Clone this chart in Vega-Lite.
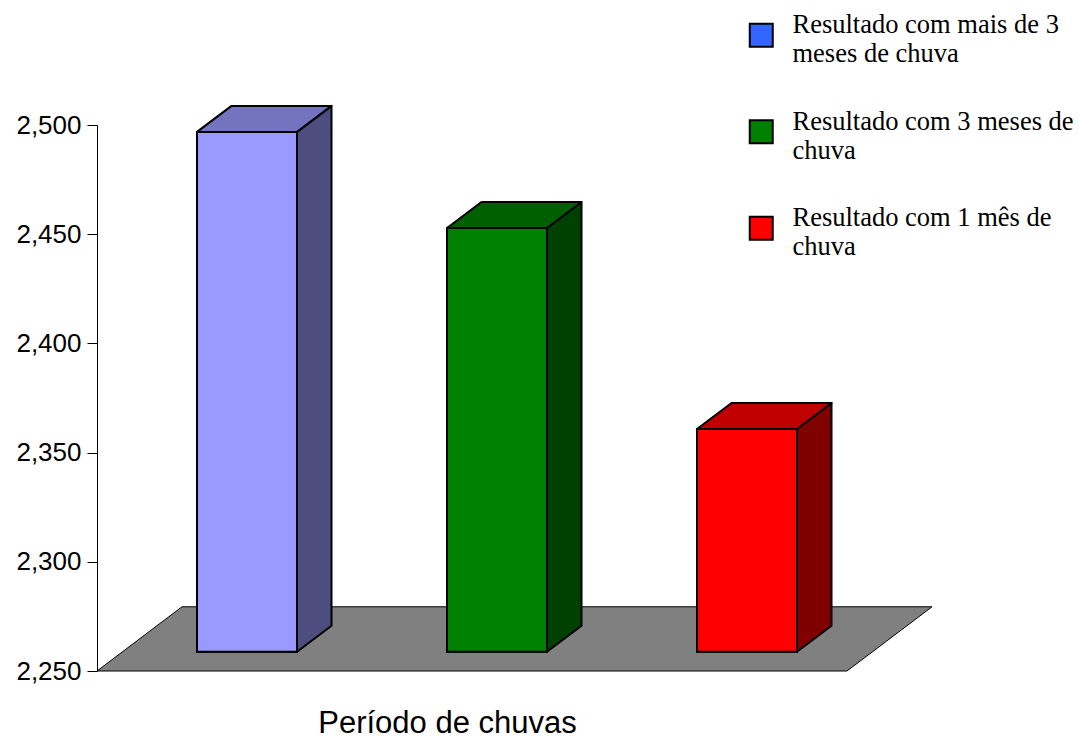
{
  "$schema": "https://vega.github.io/schema/vega-lite/v6.json",
  "width": 835,
  "height": 546,
  "autosize": "none",
  "padding": {"left": 97, "top": 125, "right": 147, "bottom": 67},
  "background": "white",
  "config": {
    "view": {"stroke": null},
    "axis": {"grid": false},
    "axisY": {
      "tickCount": 5,
      "labelFont": "Liberation Sans",
      "labelFontSize": 26,
      "labelColor": "#000",
      "labelPadding": 6,
      "tickColor": "#000",
      "tickSize": 10,
      "domainColor": "#000",
      "labelFlush": false
    },
    "axisX": {
      "labels": false,
      "ticks": false,
      "domain": false,
      "titleFont": "Liberation Sans",
      "titleFontSize": 31,
      "titleFontWeight": "normal",
      "titleColor": "#000",
      "titlePadding": 37,
      "titleX": 350,
      "titleAlign": "center"
    }
  },
  "data": {
    "values": [
      {"resultado": "Resultado com mais de 3 meses de chuva", "valor": 2488},
      {"resultado": "Resultado com 3 meses de chuva", "valor": 2444},
      {"resultado": "Resultado com 1 mês de chuva", "valor": 2352}
    ]
  },
  "transform": [
    {"window": [{"op": "row_number", "as": "ordem"}]},
    {"calculate": "datum.ordem - 1", "as": "i"}
  ],
  "layer": [
    {
      "transform": [
        {"aggregate": [{"op": "count", "as": "n"}]},
        {"calculate": "[0, 1]", "as": "lado"},
        {"flatten": ["lado"]},
        {"calculate": "datum.lado * 0.34", "as": "xa"},
        {"calculate": "datum.n + datum.lado * 0.34", "as": "xb"},
        {"calculate": "2250 + datum.lado * 29.4", "as": "yp"}
      ],
      "mark": {"type": "area", "orient": "horizontal", "fill": "#808080", "stroke": "#000", "strokeWidth": 1},
      "encoding": {
        "y": {"field": "yp", "type": "quantitative", "title": null, "axis": {"format": ",.0f"}, "scale": {"domain": [2250, 2500], "nice": false, "zero": false}},
        "x": {"field": "xa", "type": "quantitative", "title": "Período de chuvas", "scale": {"domain": [0, 3.34], "nice": false, "zero": false}},
        "x2": {"field": "xb"}
      }
    },
    {
      "transform": [
        {"calculate": "[0, 1]", "as": "lado"},
        {"flatten": ["lado"]},
        {"calculate": "datum.i + 0.8 + 0.138 * datum.lado", "as": "xs"},
        {"calculate": "datum.valor + 8.84 + 11.9 * datum.lado", "as": "yt"},
        {"calculate": "2258.84 + 11.9 * datum.lado", "as": "yb"}
      ],
      "mark": {"type": "area", "orient": "vertical", "stroke": "#000", "strokeWidth": 2, "strokeJoin": "round"},
      "encoding": {
        "x": {"field": "xs", "type": "quantitative", "title": "Período de chuvas"},
        "y": {"field": "yt", "type": "quantitative", "title": null, "axis": {"format": ",.0f"}},
        "y2": {"field": "yb"},
        "detail": {"field": "resultado"},
        "fill": {
          "field": "resultado", "type": "nominal", "legend": null,
          "scale": {"domain": ["Resultado com mais de 3 meses de chuva", "Resultado com 3 meses de chuva", "Resultado com 1 mês de chuva"], "range": ["#4D4D80", "#004000", "#800000"]}
        }
      }
    },
    {
      "transform": [
        {"calculate": "[0, 1]", "as": "lado"},
        {"flatten": ["lado"]},
        {"calculate": "datum.i + 0.4 + 0.138 * datum.lado", "as": "xl"},
        {"calculate": "datum.i + 0.8 + 0.138 * datum.lado", "as": "xr"},
        {"calculate": "datum.valor + 8.84 + 11.9 * datum.lado", "as": "yt"}
      ],
      "mark": {"type": "area", "orient": "horizontal", "stroke": "#000", "strokeWidth": 2, "strokeJoin": "round"},
      "encoding": {
        "y": {"field": "yt", "type": "quantitative", "title": null, "axis": {"format": ",.0f"}},
        "x": {"field": "xl", "type": "quantitative", "title": "Período de chuvas"},
        "x2": {"field": "xr"},
        "detail": {"field": "resultado"},
        "fill": {
          "field": "resultado", "type": "nominal", "legend": null,
          "scale": {"domain": ["Resultado com mais de 3 meses de chuva", "Resultado com 3 meses de chuva", "Resultado com 1 mês de chuva"], "range": ["#7373BF", "#006000", "#C00000"]}
        }
      }
    },
    {
      "transform": [
        {"calculate": "datum.i + 0.4", "as": "xl"},
        {"calculate": "datum.i + 0.8", "as": "xr"},
        {"calculate": "datum.valor + 8.84", "as": "yt"},
        {"calculate": "2258.84", "as": "yb"}
      ],
      "mark": {"type": "rect", "stroke": "#000", "strokeWidth": 2},
      "encoding": {
        "x": {"field": "xl", "type": "quantitative", "title": "Período de chuvas"},
        "x2": {"field": "xr"},
        "y": {"field": "yt", "type": "quantitative", "title": null, "axis": {"format": ",.0f"}},
        "y2": {"field": "yb"},
        "fill": {
          "field": "resultado", "type": "nominal",
          "scale": {"domain": ["Resultado com mais de 3 meses de chuva", "Resultado com 3 meses de chuva", "Resultado com 1 mês de chuva"], "range": ["#3366FF", "#008000", "#FF0000"]},
          "legend": {
            "title": null,
            "orient": "none",
            "legendX": 651,
            "legendY": -103,
            "symbolType": "square",
            "symbolSize": 529,
            "symbolStrokeColor": "#000",
            "symbolStrokeWidth": 2,
            "symbolOpacity": 1,
            "labelFont": "Liberation Serif",
            "labelFontSize": 26.5,
            "labelColor": "#000",
            "labelLimit": 400,
            "labelOffset": 18,
            "rowPadding": 40.5,
            "labelExpr": "datum.label == 'Resultado com mais de 3 meses de chuva' ? ['Resultado com mais de 3', 'meses de chuva'] : datum.label == 'Resultado com 3 meses de chuva' ? ['Resultado com 3 meses de', 'chuva'] : ['Resultado com 1 mês de', 'chuva']",
            "encode": {
              "symbols": {"update": {"stroke": {"value": "#000"}, "strokeWidth": {"value": 2}}},
              "labels": {"update": {"lineHeight": {"value": 29}, "dy": {"value": -10}}}
            }
          }
        }
      }
    },
    {
      "transform": [
        {"calculate": "datum.i + 0.4", "as": "xl"},
        {"calculate": "datum.i + 0.8", "as": "xr"},
        {"calculate": "datum.valor + 8.84", "as": "yt"},
        {"calculate": "2258.84", "as": "yb"}
      ],
      "mark": {"type": "rect", "stroke": "#000", "strokeWidth": 2},
      "encoding": {
        "x": {"field": "xl", "type": "quantitative", "title": "Período de chuvas"},
        "x2": {"field": "xr"},
        "y": {"field": "yt", "type": "quantitative", "title": null, "axis": {"format": ",.0f"}},
        "y2": {"field": "yb"},
        "fill": {
          "field": "resultado", "type": "nominal", "legend": null,
          "scale": {"domain": ["Resultado com mais de 3 meses de chuva", "Resultado com 3 meses de chuva", "Resultado com 1 mês de chuva"], "range": ["#9999FF", "#008000", "#FF0000"]}
        }
      }
    }
  ],
  "resolve": {"scale": {"fill": "independent"}, "legend": {"fill": "independent"}}
}
